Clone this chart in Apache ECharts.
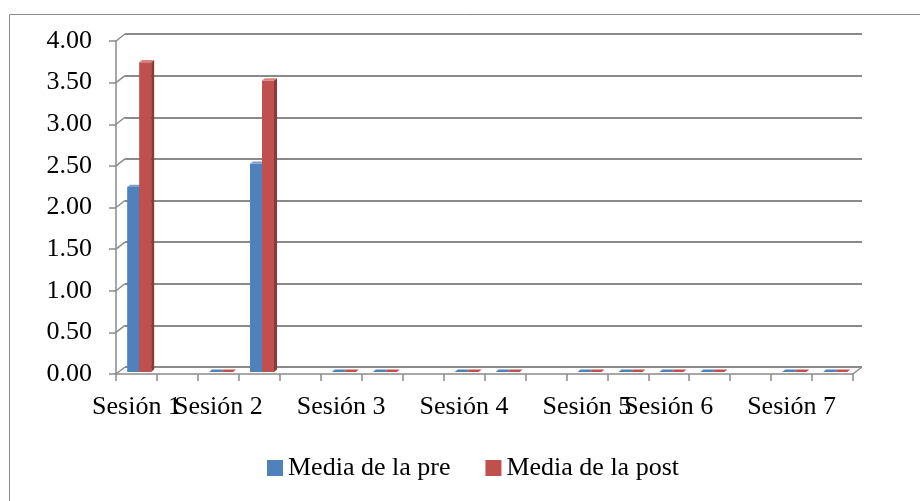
<!DOCTYPE html>
<html>
<head>
<meta charset="utf-8">
<script src="https://cdn.jsdelivr.net/npm/echarts@6/dist/echarts.min.js"></script>
<style>
  html, body { margin: 0; padding: 0; background: #ffffff; }
  #chart { width: 920px; height: 501px; }
</style>
</head>
<body>
<div id="chart"></div>
<script>
// ---- data ----
const categories = ['Sesión 1', '', 'Sesión 2', '', '', 'Sesión 3', '', '', 'Sesión 4', '', '', 'Sesión 5', '', 'Sesión 6', '', '', 'Sesión 7', ''];
const seriesNames = ['Media de la pre', 'Media de la post'];
const preValues  = [2.22, null, 0, 2.50, null, 0, 0, null, 0, 0, null, 0, 0, 0, 0, null, 0, 0];
const postValues = [3.72, null, 0, 3.50, null, 0, 0, null, 0, 0, null, 0, 0, 0, 0, null, 0, 0];
const yTicks = [0, 0.5, 1, 1.5, 2, 2.5, 3, 3.5, 4];

// ---- style / layout ----
const FONT = "'Times New Roman', 'Liberation Serif', serif";
const GRAY = '#8a8a8a';
const FRONT = { left: 116, right: 67, top: 41, bottom: 127 };
const DX = 9, DY = -7;          // 3D depth offset (front -> back wall)
const BAR_DEPTH = 0.3;          // bars sit at this fraction of the depth
const BAR_W = 12;
const SIDE = 3, SIDE_DY = -2.3;
const COLORS = [
  { front: '#4F81BD', side: '#385D8A', top: '#7A9FCF' },
  { front: '#C0504D', side: '#8C3836', top: '#D98380' }
];

function shifted(f) {
  return { left: f.left + DX * f.k, right: f.right - DX * f.k, top: f.top + DY * f.k, bottom: f.bottom - DY * f.k };
}
const BACK = shifted(Object.assign({ k: 1 }, FRONT));
const BARS = shifted(Object.assign({ k: BAR_DEPTH }, FRONT));

function barRenderer(si) {
  return function (params, api) {
    const idx = api.value(0), v = api.value(1);
    const base = api.coord([idx, 0]);
    const top = api.coord([idx, v]);
    const x0 = base[0] + (si === 0 ? -BAR_W : 0);
    const c = COLORS[si];
    const children = [];
    const h = base[1] - top[1];
    if (h > 0.5) {
      children.push({ type: 'rect', shape: { x: x0, y: top[1], width: BAR_W, height: h }, style: { fill: c.front } });
      children.push({ type: 'polygon', shape: { points: [[x0 + BAR_W, top[1]], [x0 + BAR_W + SIDE, top[1] + SIDE_DY], [x0 + BAR_W + SIDE, base[1] + SIDE_DY], [x0 + BAR_W, base[1]]] }, style: { fill: c.side } });
    }
    children.push({ type: 'polygon', shape: { points: [[x0, top[1]], [x0 + SIDE, top[1] + SIDE_DY], [x0 + BAR_W + SIDE, top[1] + SIDE_DY], [x0 + BAR_W, top[1]]] }, style: { fill: h > 0.5 ? c.top : c.front } });
    return { type: 'group', children: children };
  };
}

function decorRenderer(params, api) {
  const v = api.value(0);
  const bw = api.size([1, 0])[0];
  const pL = api.coord([0, v]);
  const xb = pL[0] - bw / 2;
  const children = [{ type: 'line', shape: { x1: xb - DX, y1: pL[1] - DY, x2: xb, y2: pL[1] }, style: { stroke: GRAY, lineWidth: 1.5 } }];
  if (v === 0) {
    const pR = api.coord([categories.length - 1, v]);
    const xr = pR[0] + bw / 2;
    children.push({ type: 'line', shape: { x1: xr - DX, y1: pR[1] - DY, x2: xr, y2: pR[1] }, style: { stroke: GRAY, lineWidth: 1.5 } });
  }
  return { type: 'group', children: children };
}

const chart = echarts.init(document.getElementById('chart'), null, { renderer: 'canvas' });
const yBase = { type: 'value', min: 0, max: 4, interval: 0.5 };

chart.setOption({
  animation: false,
  backgroundColor: '#ffffff',
  textStyle: { fontFamily: FONT },
  graphic: [{
    type: 'rect', left: 7, top: 12, shape: { width: 1200, height: 800 },
    style: { fill: 'none', stroke: '#8c8c8c', lineWidth: 1 }, silent: true, z: -10
  }],
  grid: [
    { left: BACK.left, right: BACK.right, top: BACK.top, bottom: BACK.bottom },
    { left: FRONT.left, right: FRONT.right, top: FRONT.top, bottom: FRONT.bottom },
    { left: BARS.left, right: BARS.right, top: BARS.top, bottom: BARS.bottom }
  ],
  xAxis: [
    { gridIndex: 0, type: 'category', data: categories, show: false },
    {
      gridIndex: 1, type: 'category', data: categories, boundaryGap: true,
      axisLine: { show: true, lineStyle: { color: GRAY, width: 1.5 } },
      axisTick: { show: true, interval: 0, length: 7, lineStyle: { color: GRAY, width: 1.5 } },
      axisLabel: { interval: 0, hideOverlap: false, margin: 20, color: '#000', fontSize: 26, fontFamily: FONT },
      splitLine: { show: false }
    },
    { gridIndex: 2, type: 'category', data: categories, show: false }
  ],
  yAxis: [
    Object.assign({ gridIndex: 0, axisLine: { show: false }, axisTick: { show: false }, axisLabel: { show: false },
      splitLine: { show: true, lineStyle: { color: GRAY, width: 2 } } }, yBase),
    Object.assign({ gridIndex: 1,
      axisLine: { show: true, lineStyle: { color: GRAY, width: 1.5 } },
      axisTick: { show: true, length: 7, lineStyle: { color: GRAY, width: 1.5 } },
      axisLabel: { margin: 24, color: '#000', fontSize: 26, fontFamily: FONT, padding: [4, 0, 0, 0], formatter: v => v.toFixed(2) },
      splitLine: { show: false } }, yBase),
    Object.assign({ gridIndex: 2, show: false, splitLine: { show: false } }, yBase)
  ],
  legend: {
    data: seriesNames, left: 262, top: 450, icon: 'rect', itemWidth: 16, itemHeight: 16, itemGap: 35,
    textStyle: { color: '#000', fontSize: 26, fontFamily: FONT }
  },
  series: [
    {
      name: 'decor', type: 'custom', xAxisIndex: 0, yAxisIndex: 0, silent: true,
      data: yTicks.map(v => [v]), encode: { y: 0 }, renderItem: decorRenderer, z: 1
    },
    {
      name: seriesNames[0], type: 'custom', xAxisIndex: 2, yAxisIndex: 2,
      itemStyle: { color: COLORS[0].front },
      data: preValues.map((v, i) => [i, v]).filter(d => d[1] !== null),
      encode: { x: 0, y: 1 }, renderItem: barRenderer(0), z: 3
    },
    {
      name: seriesNames[1], type: 'custom', xAxisIndex: 2, yAxisIndex: 2,
      itemStyle: { color: COLORS[1].front },
      data: postValues.map((v, i) => [i, v]).filter(d => d[1] !== null),
      encode: { x: 0, y: 1 }, renderItem: barRenderer(1), z: 4
    }
  ]
});
</script>
</body>
</html>
